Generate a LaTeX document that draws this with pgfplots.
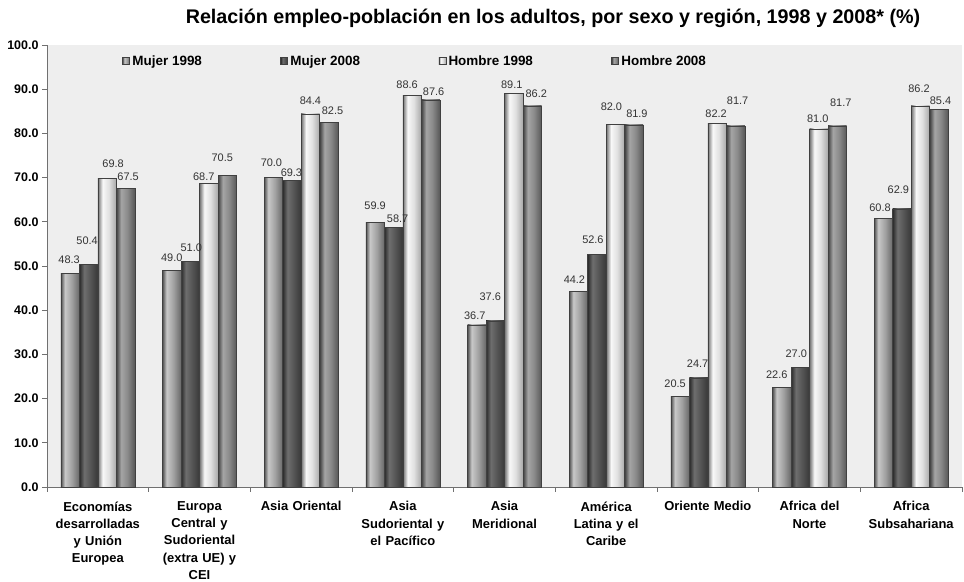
\documentclass[border=0pt]{standalone}
\usepackage{pgfplots}
\pgfplotsset{compat=1.18}
\usepackage{pgfplotstable}
\usepackage{fontspec}
\setmainfont{Liberation Sans}
\definecolor{bg}{HTML}{EEEEEE}
\definecolor{axisgray}{HTML}{707070}
\definecolor{lblgray}{HTML}{333333}
% Mujer 1998
\definecolor{a1}{HTML}{505050}\definecolor{a2}{HTML}{C8C8C8}\definecolor{a3}{HTML}{A0A0A0}\definecolor{a4}{HTML}{686868}
% Mujer 2008
\definecolor{b1}{HTML}{2A2A2A}\definecolor{b2}{HTML}{6E6E6E}\definecolor{b3}{HTML}{555555}\definecolor{b4}{HTML}{383838}
% Hombre 1998
\definecolor{c1}{HTML}{707070}\definecolor{c2}{HTML}{F8F8F8}\definecolor{c3}{HTML}{E0E0E0}\definecolor{c4}{HTML}{A8A8A8}
% Hombre 2008
\definecolor{d1}{HTML}{404040}\definecolor{d2}{HTML}{A5A5A5}\definecolor{d3}{HTML}{8A8A8A}\definecolor{d4}{HTML}{585858}
\pgfdeclarehorizontalshading{shA}{100bp}{color(0bp)=(a1); color(25bp)=(a1); color(36bp)=(a2); color(55bp)=(a3); color(75bp)=(a4); color(100bp)=(a4)}
\pgfdeclarehorizontalshading{shB}{100bp}{color(0bp)=(b1); color(25bp)=(b1); color(38bp)=(b2); color(55bp)=(b3); color(75bp)=(b4); color(100bp)=(b4)}
\pgfdeclarehorizontalshading{shC}{100bp}{color(0bp)=(c1); color(25bp)=(c1); color(38bp)=(c2); color(55bp)=(c3); color(75bp)=(c4); color(100bp)=(c4)}
\pgfdeclarehorizontalshading{shD}{100bp}{color(0bp)=(d1); color(25bp)=(d1); color(38bp)=(d2); color(55bp)=(d3); color(75bp)=(d4); color(100bp)=(d4)}

% values, plus label offsets (bp) as placed in the reference
\pgfplotstableread{
x  m98  m08  h98  h08  m98dy m98dx m08dy m08dx h98dy h98dx h08dy h08dx
0  48.3 50.4 69.8 67.5 13.5  -1    24    -1.5  14.5  6     12    2.5
1  49.0 51.0 68.7 70.5 13    0     13.6  1     7     -5    18    -5
2  70.0 69.3 84.4 82.5 14.6  -2    7.7   -0.5  13    0     11.3  3.6
3  59.9 58.7 88.6 87.6 17    0     8.5   4     10.4  -5    8.1   3
4  36.7 37.6 89.1 86.2 8.8   -2    24    -5    8.2   -2    12    4
5  44.2 52.6 82.0 81.9 12.3  -4    15    -4    18    -4    11.7  3
6  20.5 24.7 82.2 81.7 12.4  -5    13.8  -1    10.4  -1    25    2
7  22.6 27.0 81.0 81.7 12    -5    13.7  -4    10    -1    23.6  3.5
8  60.8 62.9 86.2 85.4 10.6  -3.4  19    -3.6  17    -1.4  8.8   1.6
}\datatable

% one bar per \addplot so that each bar gets its own shading
\newcommand\series[3]{%
  \pgfplotsinvokeforeach{0,...,8}{%
    \addplot[forget plot, ybar, bar width=18.5bp, bar shift=#3,
      draw=black!75, line width=0.5bp, shading=#2,
      visualization depends on={\thisrow{#1dy} \as \labdy},
      visualization depends on={\thisrow{#1dx} \as \labdx},
      nodes near coords={\pgfmathprintnumber[fixed,fixed zerofill,precision=1,assume math mode=true]{\pgfplotspointmeta}},
      every node near coord/.append style={anchor=center, xshift=#3, xshift=\labdx bp, yshift=\labdy bp},
      x filter/.expression={abs(x-##1)<0.1 ? x : nan}]
      table[x=x,y=#1]{\datatable};
  }%
}

\begin{document}
\begin{tikzpicture}
\path[use as bounding box] (-47bp,-95bp) rectangle (917bp,487bp);
\begin{axis}[
  at={(0,0)}, anchor=south west,
  scale only axis, width=915bp, height=442bp,
  xmin=-0.5, xmax=8.5, ymin=0, ymax=100,
  axis lines*=left,
  axis line style={draw=axisgray, line width=0.8bp},
  axis background/.style={fill=bg},
  ytick={0,10,...,100},
  yticklabel style={font=\bfseries\fontsize{12.5}{14}\selectfont, /pgf/number format/.cd, fixed, fixed zerofill, precision=1, assume math mode=true},
  xtick={-0.5,0.5,...,8.5},
  xticklabels={},
  tick align=outside,
  major tick length=5bp,
  tick style={draw=axisgray, line width=0.8bp},
  extra x ticks={0,1,2,3,4,5,6,7,8},
  extra x tick style={major tick length=0pt},
  extra x tick labels={{Economías\\desarrolladas\\y Unión\\Europea},{Europa\\Central y\\Sudoriental\\(extra UE) y\\CEI},{Asia Oriental},{Asia\\Sudoriental y\\el Pacífico},{Asia\\Meridional},{América\\Latina y el\\Caribe},{Oriente Medio},{Africa del\\Norte},{Africa\\Subsahariana}},
  xticklabel style={align=center, text width=104bp, font=\bfseries\fontsize{13}{17.3}\selectfont, yshift=-11bp},
  every node near coord/.append style={font=\fontsize{11}{12}\selectfont, text=lblgray, inner sep=0bp},
  legend columns=4,
  legend style={at={(rel axis cs:0.079,0.985)}, anchor=north west, draw=none, fill=none,
     font=\bfseries\fontsize{13.5}{15}\selectfont,
     nodes={inner sep=1.5bp},
     /tikz/every even column/.append style={column sep=77bp},
     /tikz/every odd column/.append style={column sep=1bp}},
  legA/.style={legend image code/.code={\draw[shading=shA, draw=black!75, line width=0.5bp] (0bp,-3.5bp) rectangle (7bp,3.5bp);}},
  legB/.style={legend image code/.code={\draw[shading=shB, draw=black!75, line width=0.5bp] (0bp,-3.5bp) rectangle (7bp,3.5bp);}},
  legC/.style={legend image code/.code={\draw[shading=shC, draw=black!75, line width=0.5bp] (0bp,-3.5bp) rectangle (7bp,3.5bp);}},
  legD/.style={legend image code/.code={\draw[shading=shD, draw=black!75, line width=0.5bp] (0bp,-3.5bp) rectangle (7bp,3.5bp);}},
  clip=false,
]
\series{m98}{shA}{-27.75bp}
\series{m08}{shB}{-9.25bp}
\series{h98}{shC}{9.25bp}
\series{h08}{shD}{27.75bp}
\addlegendimage{legA}
\addlegendimage{legB}
\addlegendimage{legC}
\addlegendimage{legD}
\legend{Mujer 1998,Mujer 2008,Hombre 1998,Hombre 2008}
\end{axis}
\node[font=\bfseries\fontsize{19.8}{24}\selectfont] at (506bp,469bp) {Relación empleo-población en los adultos, por sexo y región, 1998 y 2008* (\%)};
\end{tikzpicture}
\end{document}
